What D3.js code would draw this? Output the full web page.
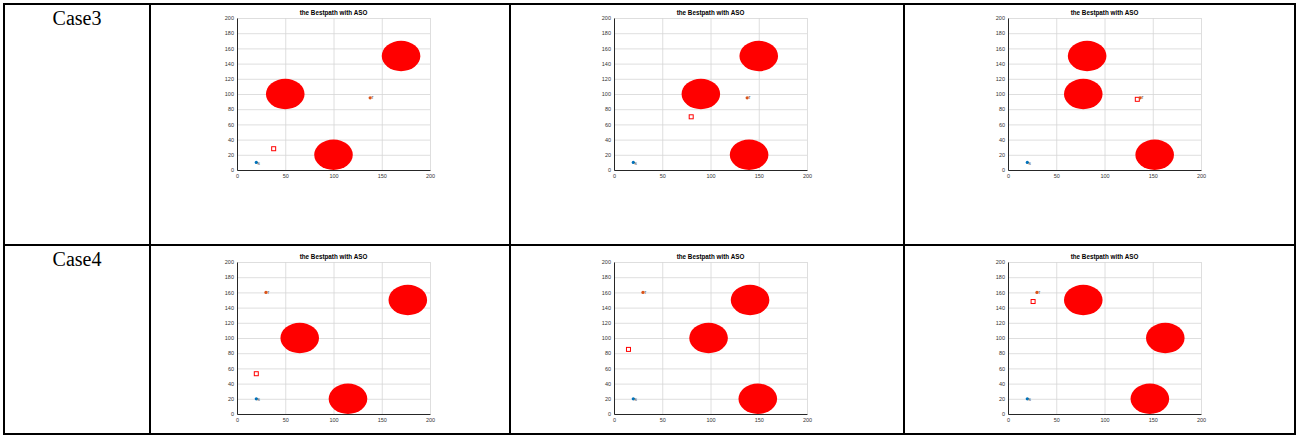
<!DOCTYPE html>
<html>
<head>
<meta charset="utf-8">
<script src="https://cdn.jsdelivr.net/npm/d3@7"></script>
<style>
  body { margin: 0; background: #fff; }
  svg { display: block; }
</style>
</head>
<body>
<svg id="chart"></svg>
<script>
// row labels
const caseNames = ["Case3", "Case4"];
const title = "the Bestpath with ASO";

// ticks
const xTicks = [0, 50, 100, 150, 200];
const yTicks = [0, 20, 40, 60, 80, 100, 120, 140, 160, 180, 200];

// obstacles per panel (row-major: Case3 a,b,c then Case4 a,b,c)
const obstacleX = [[50, 100, 170], [90, 140, 150], [82, 78, 152], [65, 115, 177], [98, 149, 141], [78, 163, 147]];
const obstacleY = [[100, 20, 150], [100, 20, 150], [150, 100, 20], [100, 20, 150], [100, 20, 150], [150, 100, 20]];
const obstacleR = 20;

// start / target / best point
const startX = [20, 20, 20, 20, 20, 20];
const startY = [10, 10, 10, 20, 20, 20];
const targetX = [138, 138, 137, 30, 30, 30];
const targetY = [95, 95, 95, 160, 160, 160];
const bestX = [38, 80, 134, 20, 15, 26];
const bestY = [28, 70, 93, 53, 85, 148];

const W = 1299, H = 436;
const svg = d3.select("#chart").attr("width", W).attr("height", H);

const colEdges = [4, 150, 510, 904, 1295];
const rowEdges = [4, 245, 434];
const plotLeft = [237, 614, 1008];
const plotW = 193;
const plotTop = [18, 262];
const plotH = 152;

// table lines
colEdges.forEach(x => {
  svg.append("line").attr("x1", x).attr("x2", x)
    .attr("y1", rowEdges[0] - 1).attr("y2", rowEdges[2] + 1)
    .attr("stroke", "#000").attr("stroke-width", 2);
});
rowEdges.forEach(y => {
  svg.append("line").attr("x1", colEdges[0] - 1).attr("x2", colEdges[4] + 1)
    .attr("y1", y).attr("y2", y)
    .attr("stroke", "#000").attr("stroke-width", 2);
});

caseNames.forEach((c, i) => {
  svg.append("text")
    .attr("x", (colEdges[0] + colEdges[1]) / 2)
    .attr("y", rowEdges[i] + 21)
    .attr("text-anchor", "middle")
    .style("font-family", "'Liberation Serif', 'Times New Roman', serif")
    .style("font-size", "20px")
    .text(c);
});

for (let r = 0; r < 2; r++) {
  for (let c = 0; c < 3; c++) {
    const k = r * 3 + c;
    const x = d3.scaleLinear().domain([0, 200]).range([plotLeft[c], plotLeft[c] + plotW]);
    const y = d3.scaleLinear().domain([0, 200]).range([plotTop[r] + plotH, plotTop[r]]);
    const g = svg.append("g");

    // grid
    g.append("g").attr("transform", `translate(0,${plotTop[r] + plotH})`)
      .call(d3.axisBottom(x).tickValues(xTicks).tickSize(-plotH).tickFormat(""))
      .call(a => a.select(".domain").remove())
      .call(a => a.selectAll("line").attr("stroke", "#d6d6d6").attr("stroke-width", 0.8));
    g.append("g").attr("transform", `translate(${plotLeft[c]},0)`)
      .call(d3.axisLeft(y).tickValues(yTicks).tickSize(-plotW).tickFormat(""))
      .call(a => a.select(".domain").remove())
      .call(a => a.selectAll("line").attr("stroke", "#d6d6d6").attr("stroke-width", 0.8));

    // obstacles
    obstacleX[k].forEach((ox, j) => {
      g.append("ellipse")
        .attr("cx", x(ox)).attr("cy", y(obstacleY[k][j]))
        .attr("rx", x(obstacleR) - x(0)).attr("ry", y(0) - y(obstacleR))
        .attr("fill", "#ff0000");
    });

    // best point
    g.append("rect")
      .attr("x", x(bestX[k]) - 2).attr("y", y(bestY[k]) - 2)
      .attr("width", 4).attr("height", 4)
      .attr("fill", "none").attr("stroke", "#ff0000").attr("stroke-width", 1);

    // start
    g.append("circle").attr("cx", x(startX[k])).attr("cy", y(startY[k])).attr("r", 1.6)
      .attr("fill", "#0072BD");
    g.append("text").attr("x", x(startX[k]) + 1).attr("y", y(startY[k]) + 2.5)
      .style("font-family", "'Liberation Sans', Arial, sans-serif").style("font-size", "4px")
      .attr("fill", "#333").text("S");

    // target
    g.append("circle").attr("cx", x(targetX[k])).attr("cy", y(targetY[k])).attr("r", 1.6)
      .attr("fill", "#D95319");
    g.append("text").attr("x", x(targetX[k]) + 1).attr("y", y(targetY[k]) + 1.5)
      .style("font-family", "'Liberation Sans', Arial, sans-serif").style("font-size", "4px")
      .attr("fill", "#333").text("T");

    // axes
    g.append("g").attr("transform", `translate(0,${plotTop[r] + plotH})`)
      .call(d3.axisBottom(x).tickValues(xTicks).tickSize(0).tickPadding(4))
      .call(a => a.select(".domain").attr("stroke", "#262626").attr("stroke-width", 1))
      .call(a => a.selectAll("text").style("font-family", "'Liberation Sans', Arial, sans-serif")
        .style("font-size", "5.5px").attr("fill", "#333"));
    g.append("g").attr("transform", `translate(${plotLeft[c]},0)`)
      .call(d3.axisLeft(y).tickValues(yTicks).tickSize(0).tickPadding(3))
      .call(a => a.select(".domain").attr("stroke", "#262626").attr("stroke-width", 1))
      .call(a => a.selectAll("text").style("font-family", "'Liberation Sans', Arial, sans-serif")
        .style("font-size", "5.5px").attr("fill", "#333"));

    g.append("text")
      .attr("x", plotLeft[c] + plotW / 2).attr("y", plotTop[r] - 3)
      .attr("text-anchor", "middle")
      .style("font-family", "'Liberation Sans', Arial, sans-serif")
      .style("font-size", "6.3px").style("font-weight", "bold")
      .attr("fill", "#000")
      .text(title);
  }
}
</script>
</body>
</html>
